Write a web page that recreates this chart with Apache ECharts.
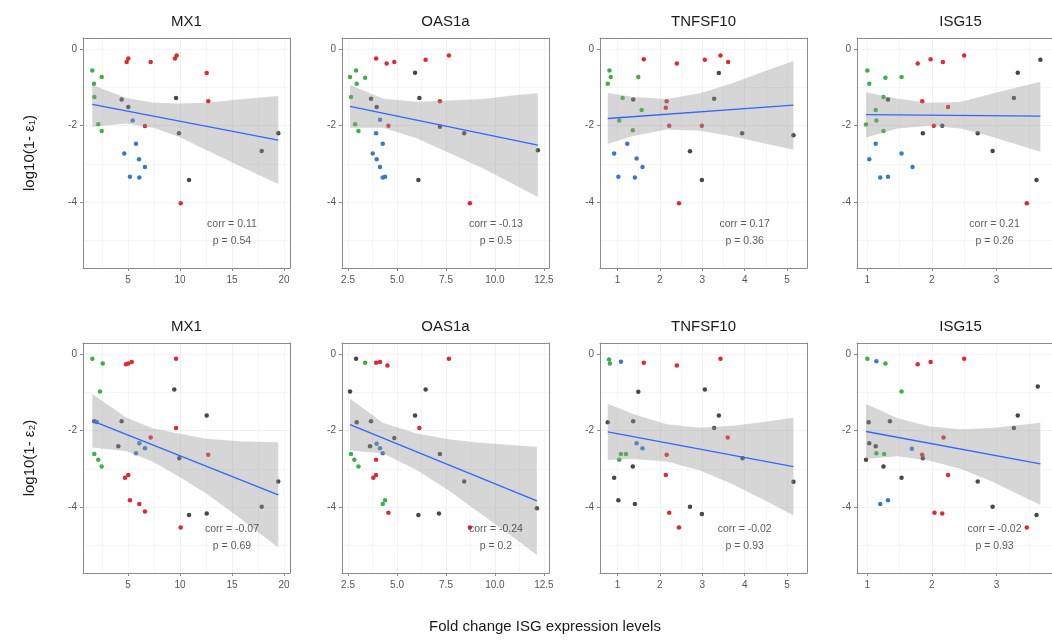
<!DOCTYPE html>
<html>
<head>
<meta charset="utf-8">
<script src="https://cdn.jsdelivr.net/npm/echarts@6/dist/echarts.min.js"></script>
<style>
html, body { margin: 0; padding: 0; background: #ffffff; }
#chart { width: 1052px; height: 641px; }
</style>
</head>
<body>
<div id="chart"></div>
<script>
// ---- data -------------------------------------------------------------
const genes = ['MX1', 'OAS1a', 'TNFSF10', 'ISG15'];
const yTicks = [-4, -2, 0];
const xTicksMX1 = [5, 10, 15, 20];
const xTicksOAS1a = [2.5, 5, 7.5, 10, 12.5];
const xTicksTNFSF10 = [1, 2, 3, 4, 5];
const xTicksISG15 = [1, 2, 3];

// group index: 0 red, 1 green, 2 blue, 3 dark grey
// points: [fold change, log10(1 - eps), group]
const mx1Eps1 = [
  [1.57,-0.55,1],[1.73,-0.90,1],[1.76,-1.25,1],[2.47,-0.72,1],[2.14,-1.96,1],[2.47,-2.14,1],
  [4.87,-0.33,0],[5.03,-0.24,0],[7.18,-0.33,0],[9.52,-0.24,0],[9.68,-0.16,0],[12.57,-0.62,0],[12.72,-1.36,0],
  [4.39,-1.31,3],[5.03,-1.51,3],[5.45,-1.86,2],[6.63,-2.01,0],[9.62,-1.27,3],[9.90,-2.20,3],
  [4.64,-2.73,2],[5.77,-2.47,2],[6.06,-2.88,2],[6.63,-3.08,2],[5.19,-3.34,2],[6.09,-3.36,2],
  [10.87,-3.42,3],[10.07,-4.03,0],[17.86,-2.66,3],[19.45,-2.20,3]
];
const oas1aEps1 = [
  [2.60,-0.72,1],[2.91,-0.55,1],[2.94,-0.90,1],[3.37,-0.74,1],[2.65,-1.25,1],[2.86,-1.96,1],[3.03,-2.14,1],
  [3.93,-0.24,0],[4.47,-0.37,0],[4.86,-0.33,0],[6.46,-0.27,0],[7.65,-0.16,0],[5.92,-0.61,3],[7.19,-1.36,0],
  [6.14,-1.27,3],[3.67,-1.29,3],[3.96,-1.51,3],[4.13,-1.84,2],[4.56,-2.00,0],[7.19,-2.03,3],[8.43,-2.20,3],
  [3.93,-2.20,2],[4.27,-2.47,2],[3.76,-2.73,2],[3.96,-2.88,2],[4.13,-3.08,2],[4.27,-3.36,2],[4.39,-3.34,2],
  [6.09,-3.42,3],[8.72,-4.03,0],[12.19,-2.64,3]
];
const tnfsf10Eps1 = [
  [0.81,-0.55,1],[0.84,-0.72,1],[0.77,-0.90,1],[1.12,-1.27,1],[1.37,-1.31,3],[1.49,-0.72,1],[1.62,-0.26,0],
  [1.57,-1.59,1],[1.04,-1.86,1],[1.36,-2.12,1],[0.92,-2.73,2],[1.23,-2.47,2],[1.45,-2.86,2],[1.59,-3.08,2],
  [1.02,-3.34,2],[1.41,-3.36,2],[2.16,-1.36,0],[2.14,-1.53,0],[2.40,-0.37,0],[2.22,-2.00,0],[2.71,-2.67,3],
  [2.45,-4.03,0],[2.99,-2.00,0],[2.99,-3.42,3],[3.06,-0.27,0],[3.39,-0.62,3],[3.43,-0.16,0],[3.61,-0.33,0],
  [3.28,-1.29,3],[3.94,-2.20,3],[5.15,-2.25,3]
];
const isg15Eps1 = [
  [1.00,-0.55,1],[1.03,-0.90,1],[1.28,-0.74,1],[1.53,-0.72,1],[1.25,-1.25,1],[1.32,-1.31,3],[1.13,-1.59,1],
  [1.14,-1.86,1],[0.98,-1.97,1],[1.25,-2.14,1],[1.13,-2.47,2],[1.03,-2.88,2],[1.53,-2.73,2],[1.20,-3.36,2],
  [1.32,-3.34,2],[1.70,-3.08,2],[1.78,-0.37,0],[1.98,-0.26,0],[2.17,-0.33,0],[2.50,-0.16,0],[1.85,-1.36,0],
  [2.25,-1.51,0],[1.86,-2.20,3],[2.03,-2.00,0],[2.16,-2.00,3],[2.71,-2.20,3],[2.94,-2.66,3],[3.27,-1.27,3],
  [3.33,-0.61,3],[3.47,-4.03,0],[3.62,-3.42,3],[3.68,-0.27,3]
];
const mx1Eps2 = [
  [1.57,-0.11,1],[2.57,-0.24,1],[2.31,-0.97,1],[1.76,-1.75,3],[1.99,-1.77,2],[1.76,-2.61,1],[2.14,-2.76,1],[2.47,-2.94,1],
  [4.81,-0.26,0],[5.03,-0.24,0],[5.36,-0.20,0],[9.62,-0.11,0],[9.45,-0.92,3],[12.57,-1.60,3],[4.39,-1.75,3],
  [9.62,-1.93,0],[7.18,-2.18,0],[4.07,-2.41,3],[6.09,-2.33,2],[6.63,-2.46,2],[5.77,-2.59,2],[9.93,-2.72,3],
  [12.72,-2.63,0],[4.71,-3.23,0],[5.03,-3.16,0],[5.19,-3.82,0],[6.09,-3.92,0],[6.63,-4.12,0],[10.87,-4.21,3],
  [12.57,-4.17,3],[10.07,-4.54,0],[17.86,-3.99,3],[19.45,-3.33,3]
];
const oas1aEps2 = [
  [2.60,-0.97,3],[2.91,-0.11,3],[3.37,-0.22,1],[3.93,-0.22,0],[4.13,-0.20,0],[4.51,-0.29,0],[7.65,-0.11,0],
  [6.46,-0.92,3],[5.92,-1.60,3],[6.14,-1.93,0],[2.94,-1.78,3],[3.67,-1.75,3],[4.86,-2.19,3],[3.62,-2.41,3],
  [3.96,-2.34,2],[4.13,-2.46,2],[4.27,-2.59,2],[2.65,-2.61,1],[2.82,-2.76,1],[3.03,-2.94,1],[3.93,-2.76,0],
  [3.79,-3.23,0],[3.93,-3.16,0],[7.19,-2.61,3],[8.43,-3.33,3],[4.27,-3.92,1],[4.39,-3.82,1],[4.56,-4.15,0],
  [6.09,-4.21,3],[7.14,-4.17,3],[8.72,-4.54,0],[12.14,-4.03,3]
];
const tnfsf10Eps2 = [
  [0.80,-0.13,1],[0.82,-0.24,1],[1.08,-0.19,2],[1.62,-0.22,0],[2.40,-0.29,0],[3.43,-0.11,0],[1.49,-0.98,3],
  [3.06,-0.92,3],[3.39,-1.60,3],[0.77,-1.78,3],[1.37,-1.75,3],[3.28,-1.93,3],[3.60,-2.18,0],[1.45,-2.33,2],
  [1.59,-2.46,2],[1.20,-2.61,1],[1.08,-2.61,1],[1.04,-2.76,1],[2.16,-2.63,0],[1.36,-2.94,3],[3.95,-2.72,3],
  [0.92,-3.23,3],[2.14,-3.16,0],[1.02,-3.82,3],[1.41,-3.92,3],[2.22,-4.15,0],[2.71,-3.99,3],[2.99,-4.18,3],
  [2.45,-4.54,0],[5.15,-3.34,3]
];
const isg15Eps2 = [
  [1.00,-0.11,1],[1.14,-0.18,2],[1.28,-0.24,1],[1.78,-0.26,0],[1.98,-0.20,0],[2.50,-0.11,0],[1.53,-0.97,1],
  [3.33,-1.60,3],[3.27,-1.93,3],[1.02,-1.78,3],[1.35,-1.75,3],[2.18,-2.18,0],[1.03,-2.33,3],[1.13,-2.41,3],
  [1.14,-2.59,1],[1.26,-2.61,1],[1.69,-2.47,2],[1.85,-2.63,0],[1.86,-2.72,3],[0.98,-2.76,3],[1.25,-2.94,3],
  [1.53,-3.23,3],[2.25,-3.16,0],[2.71,-3.33,3],[1.20,-3.92,2],[1.32,-3.82,2],[2.04,-4.15,0],[2.16,-4.17,0],
  [2.94,-3.99,3],[3.62,-4.21,3],[3.47,-4.54,0],[3.64,-0.84,3]
];

// linear fits: [[x start, y start], [x end, y end]]
const mx1Eps1Fit = [[1.57,-1.44],[19.45,-2.38]];
const oas1aEps1Fit = [[2.60,-1.49],[12.19,-2.51]];
const tnfsf10Eps1Fit = [[0.77,-1.81],[5.15,-1.46]];
const isg15Eps1Fit = [[0.98,-1.71],[3.68,-1.75]];
const mx1Eps2Fit = [[1.57,-1.74],[19.45,-3.68]];
const oas1aEps2Fit = [[2.60,-1.84],[12.14,-3.84]];
const tnfsf10Eps2Fit = [[0.77,-2.03],[5.15,-2.94]];
const isg15Eps2Fit = [[0.98,-2.02],[3.68,-2.87]];

// 95% confidence bands: [x, lower, upper]
const mx1Eps1Band = [[1.57,-2.03,-0.93],[4.87,-1.94,-1.27],[7.44,-2.05,-1.40],[10.0,-2.30,-1.42],[12.56,-2.64,-1.40],[16.09,-3.10,-1.30],[19.45,-3.53,-1.22]];
const oas1aEps1Band = [[2.60,-2.05,-0.93],[4.30,-2.05,-1.29],[6.0,-2.33,-1.37],[7.70,-2.72,-1.34],[9.40,-3.12,-1.30],[11.0,-3.55,-1.20],[12.19,-3.87,-1.15]];
const tnfsf10Eps1Band = [[0.77,-2.48,-1.14],[1.37,-2.27,-1.25],[2.16,-2.10,-1.30],[2.95,-2.13,-1.15],[3.73,-2.28,-0.88],[4.45,-2.46,-0.58],[5.15,-2.63,-0.30]];
const isg15Eps1Band = [[0.98,-2.31,-1.12],[1.47,-2.07,-1.29],[1.95,-2.00,-1.40],[2.44,-2.07,-1.38],[2.93,-2.29,-1.16],[3.68,-2.68,-0.85]];
const mx1Eps2Band = [[1.57,-2.44,-1.04],[4.87,-2.54,-1.66],[7.44,-2.82,-1.94],[10.0,-3.22,-2.08],[12.56,-3.65,-2.21],[16.09,-4.36,-2.28],[19.45,-5.06,-2.30]];
const oas1aEps2Band = [[2.60,-2.52,-1.16],[4.30,-2.60,-1.80],[6.0,-3.03,-2.07],[7.70,-3.59,-2.23],[9.40,-4.22,-2.32],[11.0,-4.82,-2.38],[12.14,-5.26,-2.42]];
const tnfsf10Eps2Band = [[0.77,-2.77,-1.29],[1.37,-2.74,-1.56],[2.16,-2.81,-1.83],[2.95,-3.04,-1.92],[3.73,-3.41,-1.87],[4.45,-3.81,-1.77],[5.15,-4.22,-1.66]];
const isg15Eps2Band = [[0.98,-2.74,-1.30],[1.47,-2.67,-1.67],[1.95,-2.78,-1.88],[2.44,-3.00,-1.96],[2.93,-3.33,-1.93],[3.68,-3.95,-1.79]];

const corrEps1 = ['0.11', '-0.13', '0.17', '0.21'];
const pEps1 = ['0.54', '0.5', '0.36', '0.26'];
const corrEps2 = ['-0.07', '-0.24', '-0.02', '-0.02'];
const pEps2 = ['0.69', '0.2', '0.93', '0.93'];

// ---- layout & style ---------------------------------------------------
const groupColors = ['#db2a32', '#3fae48', '#3b78c8', '#474747'];
const FONT = '"Liberation Sans", Arial, sans-serif';
const colLeft = [83, 342, 600, 857];
const rowTop = [38, 343];
const panelW = 207, panelH = 230;
const xExtent = [[0.673, 20.58], [2.19, 12.76], [0.587, 5.47], [0.84, 3.86]];
const xStep = [5, 2.5, 1, 1];
const xTicks = [xTicksMX1, xTicksOAS1a, xTicksTNFSF10, xTicksISG15];
const xLabelFmt = [v => String(v), v => v.toFixed(1), v => String(v), v => String(v)];
const yExtent = [-5.73, 0.3];
const annX = [15, 10.05, 4.0, 2.97];
const annY = -4.81;

const rows = [
  { points: [mx1Eps1, oas1aEps1, tnfsf10Eps1, isg15Eps1],
    fits: [mx1Eps1Fit, oas1aEps1Fit, tnfsf10Eps1Fit, isg15Eps1Fit],
    bands: [mx1Eps1Band, oas1aEps1Band, tnfsf10Eps1Band, isg15Eps1Band],
    corr: corrEps1, p: pEps1, ylab: 'log10(1- \u03b5\u2081)' },
  { points: [mx1Eps2, oas1aEps2, tnfsf10Eps2, isg15Eps2],
    fits: [mx1Eps2Fit, oas1aEps2Fit, tnfsf10Eps2Fit, isg15Eps2Fit],
    bands: [mx1Eps2Band, oas1aEps2Band, tnfsf10Eps2Band, isg15Eps2Band],
    corr: corrEps2, p: pEps2, ylab: 'log10(1- \u03b5\u2082)' }
];

const BORDER = '#8a8a8a';
const grids = [], xAxes = [], yAxes = [], series = [], graphics = [];

rows.forEach((row, r) => {
  genes.forEach((gene, g) => {
    const i = grids.length;
    grids.push({ left: colLeft[g], top: rowTop[r], width: panelW, height: panelH, containLabel: false });

    // major x axis (bottom, labelled)
    xAxes.push({
      type: 'value', gridIndex: i, position: 'bottom',
      min: xExtent[g][0], max: xExtent[g][1], minInterval: xStep[g], maxInterval: xStep[g],
      axisLine: { show: true, onZero: false, lineStyle: { color: BORDER, width: 1 } },
      axisTick: { show: true, length: 3, customValues: xTicks[g], lineStyle: { color: BORDER } },
      axisLabel: { show: true, customValues: xTicks[g], formatter: xLabelFmt[g], color: '#555', fontSize: 10, margin: 7, fontFamily: FONT, hideOverlap: false },
      splitLine: { show: true, showMinLine: false, showMaxLine: false, lineStyle: { color: '#ebebeb', width: 1 } }
    });
    // minor x grid (top edge closes the frame)
    xAxes.push({
      type: 'value', gridIndex: i, position: 'top',
      min: xExtent[g][0], max: xExtent[g][1], minInterval: xStep[g] / 2, maxInterval: xStep[g] / 2,
      axisLine: { show: true, onZero: false, lineStyle: { color: BORDER, width: 1 } },
      axisTick: { show: false }, axisLabel: { show: false },
      splitLine: { show: true, showMinLine: false, showMaxLine: false, lineStyle: { color: '#f3f3f3', width: 0.8 } }
    });
    // major y axis (left, labelled)
    yAxes.push({
      type: 'value', gridIndex: i, position: 'left',
      min: yExtent[0], max: yExtent[1], minInterval: 2, maxInterval: 2,
      axisLine: { show: true, onZero: false, lineStyle: { color: BORDER, width: 1 } },
      axisTick: { show: true, length: 3, customValues: yTicks, lineStyle: { color: BORDER } },
      axisLabel: { show: true, customValues: yTicks, color: '#555', fontSize: 10, margin: 6, fontFamily: FONT, hideOverlap: false },
      splitLine: { show: true, showMinLine: false, showMaxLine: false, lineStyle: { color: '#ebebeb', width: 1 } }
    });
    // minor y grid (right edge closes the frame)
    yAxes.push({
      type: 'value', gridIndex: i, position: 'right',
      min: yExtent[0], max: yExtent[1], minInterval: 1, maxInterval: 1,
      axisLine: { show: true, onZero: false, lineStyle: { color: BORDER, width: 1 } },
      axisTick: { show: false }, axisLabel: { show: false },
      splitLine: { show: true, showMinLine: false, showMaxLine: false, lineStyle: { color: '#f3f3f3', width: 0.8 } }
    });

    const xi = 2 * i, yi = 2 * i;

    // observations
    series.push({
      type: 'scatter', xAxisIndex: xi, yAxisIndex: yi, z: 2,
      data: row.points[g], symbolSize: 4.5, encode: { x: 0, y: 1 },
      itemStyle: { color: p => groupColors[p.data[2]], opacity: 1 },
      silent: true
    });

    // confidence band
    const band = row.bands[g];
    series.push({
      type: 'custom', xAxisIndex: xi, yAxisIndex: yi, z: 3, silent: true,
      data: band, encode: { x: 0, y: [1, 2] },
      renderItem: (params, api) => {
        if (params.dataIndex !== 0) return null;
        const pts = [];
        band.forEach(d => pts.push(api.coord([d[0], d[2]])));
        band.slice().reverse().forEach(d => pts.push(api.coord([d[0], d[1]])));
        return { type: 'polygon', shape: { points: pts }, style: { fill: 'rgba(153,153,153,0.4)' } };
      }
    });

    // fitted line
    series.push({
      type: 'line', xAxisIndex: xi, yAxisIndex: yi, z: 4, silent: true,
      data: row.fits[g], symbol: 'none',
      lineStyle: { color: '#3366ff', width: 1.3 }
    });

    // correlation note
    series.push({
      type: 'scatter', xAxisIndex: xi, yAxisIndex: yi, z: 5, silent: true,
      data: [[annX[g], annY]], symbolSize: 0,
      label: {
        show: true, position: 'inside', align: 'center', verticalAlign: 'middle',
        formatter: () => 'corr = ' + row.corr[g] + '\np = ' + row.p[g],
        fontSize: 10.5, lineHeight: 17, color: '#333', fontFamily: FONT
      }
    });

    // panel title
    graphics.push({
      type: 'text', x: colLeft[g] + panelW / 2, y: rowTop[r] - 16,
      style: { text: gene, fontSize: 15, fontFamily: FONT, fill: '#1a1a1a', textAlign: 'center', textVerticalAlign: 'middle' }
    });
  });

  // row y-axis title
  graphics.push({
    type: 'text', x: 30, y: rowTop[r] + panelH / 2, rotation: Math.PI / 2,
    style: { text: row.ylab, fontSize: 15, fontFamily: FONT, fill: '#1a1a1a', textAlign: 'center', textVerticalAlign: 'middle' }
  });
});

graphics.push({
  type: 'text', x: 545, y: 627,
  style: { text: 'Fold change ISG expression levels', fontSize: 15, fontFamily: FONT, fill: '#1a1a1a', textAlign: 'center', textVerticalAlign: 'middle' }
});

const chart = echarts.init(document.getElementById('chart'), null, { renderer: 'canvas' });
chart.setOption({
  animation: false,
  backgroundColor: '#ffffff',
  textStyle: { fontFamily: FONT },
  grid: grids,
  xAxis: xAxes,
  yAxis: yAxes,
  series: series,
  graphic: graphics
});
</script>
</body>
</html>
